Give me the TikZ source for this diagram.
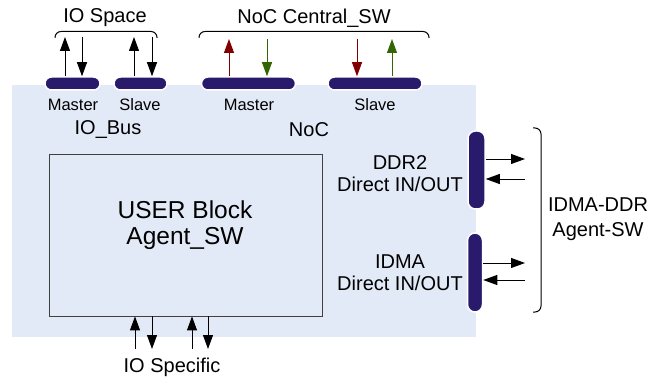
\documentclass[tikz,border=0pt]{standalone}
\usepackage{fontspec}
\setmainfont{Liberation Sans}
\usetikzlibrary{arrows.meta}
\definecolor{panel}{RGB}{227,234,247}
\definecolor{busnavy}{RGB}{42,26,108}
\definecolor{reqred}{RGB}{128,0,0}
\definecolor{rspgreen}{RGB}{51,102,0}
\begin{document}
\begin{tikzpicture}[x=1pt,y=-1pt,
  busbar/.style={rectangle, fill=busnavy, draw=white, line width=1.5pt, inner sep=0pt},
  hbar/.style={busbar, rounded corners=6.5pt, minimum height=13pt},
  vbar/.style={busbar, rounded corners=7.5pt},
  sig/.style={-{Triangle[length=14pt,width=10pt]}, line width=0.9pt},
  lbl/.style={font=\fontsize{20}{22}\selectfont, inner sep=0pt, align=center},
  tag/.style={font=\fontsize{16.5}{18}\selectfont, inner sep=0pt},
  brace/.style={line width=1pt, rounded corners=6pt}
]
\useasboundingbox (0,0) rectangle (661,379);
% chip area
\fill[panel] (12,85) rectangle (476,337);

% interface bars
\node[hbar, minimum width=55pt] (iom) at (72.5,83.5) {};
\node[hbar, minimum width=53pt] (ios) at (140.5,83.5) {};
\node[hbar, minimum width=94pt] (nocm) at (248.5,83.5) {};
\node[hbar, minimum width=94pt] (nocs) at (375,83.5) {};
\node[vbar, minimum width=17pt, minimum height=78pt] (ddr) at (476.5,170) {};
\node[vbar, minimum width=15pt, minimum height=79pt] (idma) at (475,272.5) {};

% user block
\node[draw=black!75, line width=0.8pt, minimum width=273pt, minimum height=162pt, inner sep=0pt] (user) at (185.5,235) {};
\node[font=\fontsize{24.5}{26}\selectfont, align=center, inner sep=0pt] (userlbl) at (185,225) {USER Block\\Agent\_SW};

% labels
\node[lbl] (iospace) at (105,18) {IO Space};
\node[lbl] (noccsw) at (314,18) {NoC Central\_SW};
\node[tag] (iomlbl) at (73,105) {Master};
\node[tag] (ioslbl) at (140,105) {Slave};
\node[tag] (nocmlbl) at (249,105) {Master};
\node[tag] (nocslbl) at (375,105) {Slave};
\node[lbl] (iobus) at (108,130) {IO\_Bus};
\node[lbl] (noc) at (309,130) {NoC};
\node[lbl] (ddrlbl) at (400,174) {DDR2\\Direct IN/OUT};
\node[lbl] (idmalbl) at (400,273) {IDMA\\Direct IN/OUT};
\node[lbl, font=\fontsize{20}{25}\selectfont] (agentlbl) at (598,219.5) {IDMA-DDR\\Agent-SW};
\node[lbl] (iospec) at (172,367) {IO Specific};

% braces
\draw[brace] (55,38) -- (55,31.5) -- (157,31.5) -- (157,38);
\draw[brace] (199,38) -- (199,31.5) -- (429,31.5) -- (429,38);
\draw[brace] (533,128) -- (541,128) -- (541,312) -- (533,312);

% IO space signals
\coordinate (ioMu) at (65,37);
\coordinate (ioMd) at (82,37);
\coordinate (ioSu) at (134,37);
\coordinate (ioSd) at (152,37);
\draw[sig] (iom.north -| ioMu) -- (ioMu);
\draw[sig] (ioMd) -- (iom.north -| ioMd);
\draw[sig] (ios.north -| ioSu) -- (ioSu);
\draw[sig] (ioSd) -- (ios.north -| ioSd);

% NoC signals
\coordinate (nocMu) at (229,39);
\coordinate (nocMd) at (267,39);
\coordinate (nocSd) at (357,39);
\coordinate (nocSu) at (392,39);
\draw[sig, reqred] (nocm.north -| nocMu) -- (nocMu);
\draw[sig, rspgreen] (nocMd) -- (nocm.north -| nocMd);
\draw[sig, reqred] (nocSd) -- (nocs.north -| nocSd);
\draw[sig, rspgreen] (nocs.north -| nocSu) -- (nocSu);

% DDR2 / IDMA signals
\coordinate (ddrOut) at (525,159);
\coordinate (ddrIn) at (525,179);
\coordinate (idmaOut) at (525,263);
\coordinate (idmaIn) at (525,280);
\draw[sig] (ddr.east |- ddrOut) -- (ddrOut);
\draw[sig] (ddrIn) -- (ddr.east |- ddrIn);
\draw[sig] (idma.east |- idmaOut) -- (idmaOut);
\draw[sig] (idmaIn) -- (idma.east |- idmaIn);

% IO specific signals
\coordinate (spAu) at (135,349);
\coordinate (spAd) at (152,349);
\coordinate (spBu) at (192,349);
\coordinate (spBd) at (208,349);
\draw[sig] (spAu) -- (user.south -| spAu);
\draw[sig] (user.south -| spAd) -- (spAd);
\draw[sig] (spBu) -- (user.south -| spBu);
\draw[sig] (user.south -| spBd) -- (spBd);
\end{tikzpicture}
\end{document}
